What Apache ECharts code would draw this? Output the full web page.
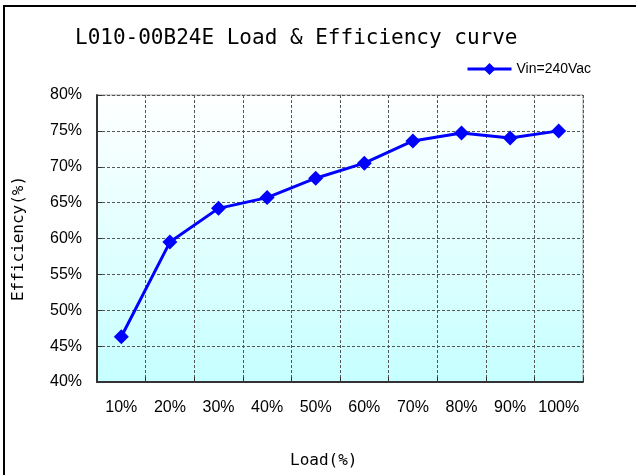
<!DOCTYPE html>
<html>
<head>
<meta charset="utf-8">
<script src="https://cdn.jsdelivr.net/npm/echarts@6/dist/echarts.min.js"></script>
<style>html,body{margin:0;padding:0;background:#fff;}#c{width:636px;height:475px;}</style>
</head>
<body>
<div id="c"></div>
<script>
const titleText = 'L010-00B24E Load & Efficiency curve';
const seriesName = 'Vin=240Vac';
const categories = ['10%','20%','30%','40%','50%','60%','70%','80%','90%','100%'];
const efficiency = [46.3, 59.5, 64.2, 65.7, 68.4, 70.5, 73.6, 74.7, 74.0, 75.0];
const yTicks = [40, 45, 50, 55, 60, 65, 70, 75, 80];
const xName = 'Load(%)';
const yName = 'Efficiency(%)';

const chart = echarts.init(document.getElementById('c'), null, {renderer: 'canvas'});
const gridLine = {show: true, interval: 0, lineStyle: {color: '#555', type: [3, 2], width: 1}};
chart.setOption({
  animation: false,
  backgroundColor: '#fff',
  title: {
    text: titleText, left: 70, top: 23,
    textStyle: {fontFamily: 'DejaVu Sans Mono', fontSize: 21, fontWeight: 'normal', color: '#000'}
  },
  legend: {
    data: [seriesName], left: 461, top: 57, itemWidth: 44, itemHeight: 15, itemGap: 4,
    lineStyle: {width: 3},
    textStyle: {fontFamily: 'Liberation Sans', fontSize: 14, color: '#000'}
  },
  grid: {
    left: 97, top: 95, right: 53, bottom: 93, show: true, borderColor: '#a0a0a0', borderWidth: 1,
    backgroundColor: {type: 'linear', x: 0, y: 0, x2: 0, y2: 1,
      colorStops: [{offset: 0, color: '#ffffff'}, {offset: 1, color: '#c6ffff'}]}
  },
  xAxis: {
    type: 'category', data: categories, boundaryGap: true,
    axisLine: {lineStyle: {color: '#333', width: 2}},
    axisTick: {show: true, inside: true, interval: 0, length: 5, lineStyle: {color: '#333'}},
    axisLabel: {interval: 0, margin: 18, fontFamily: 'Liberation Sans', fontSize: 16, color: '#000'},
    splitLine: gridLine
  },
  yAxis: {
    type: 'value', min: yTicks[0], max: yTicks[yTicks.length - 1], interval: 5,
    name: yName, nameLocation: 'middle', nameGap: 70,
    nameTextStyle: {fontFamily: 'DejaVu Sans Mono', fontSize: 16, color: '#000'},
    axisLine: {show: true, lineStyle: {color: '#333', width: 2}},
    axisTick: {show: true, inside: true, length: 5, lineStyle: {color: '#333'}},
    axisLabel: {margin: 15, fontFamily: 'Liberation Sans', fontSize: 16, color: '#000', formatter: '{value}%'},
    splitLine: {show: true, lineStyle: {color: '#555', type: [3, 2], width: 1}}
  },
  graphic: [
    {type: 'rect', shape: {x: 4, y: 6, width: 700, height: 700}, style: {fill: 'none', stroke: '#000', lineWidth: 2}, silent: true, z: 100},
    {type: 'text', left: 290, top: 453, style: {text: xName, font: '16px "DejaVu Sans Mono"', fill: '#000'}}
  ],
  series: [{
    name: seriesName, type: 'line', data: efficiency,
    symbol: 'diamond', symbolSize: 15,
    lineStyle: {color: '#0000ff', width: 3},
    itemStyle: {color: '#0000ff'}
  }]
});
</script>
</body>
</html>
